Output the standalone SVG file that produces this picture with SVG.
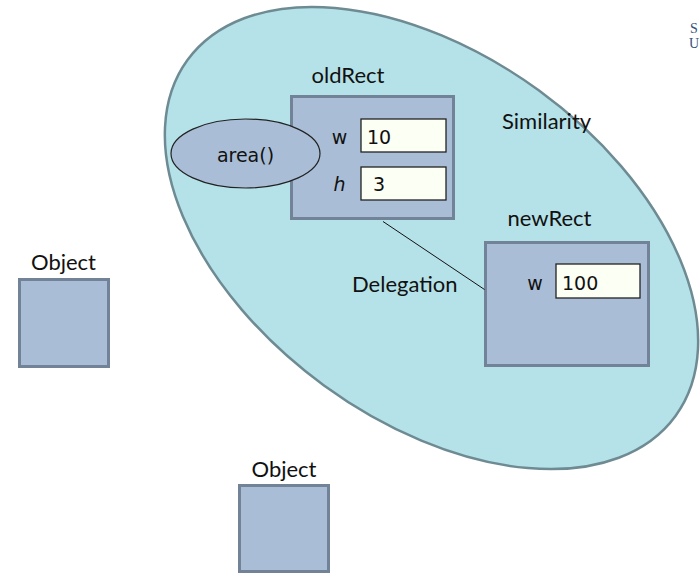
<svg xmlns="http://www.w3.org/2000/svg" width="700" height="574" viewBox="0 0 700 574">
<style>
.obj{fill:#a9bed6;stroke:#738397;stroke-width:3}
.fld{fill:#fcfff4;stroke:#222;stroke-width:1.3}
.lbl{font-family:Lato,"Open Sans",sans-serif;font-size:22px;fill:#111}
.val{font-family:"DejaVu Sans",Verdana,sans-serif;font-size:19px;fill:#111}
.logo{font-family:"Liberation Serif",serif;font-size:14px;fill:#34507a}
.conn{stroke:#111;stroke-width:1;fill:none}
</style>
<rect width="700" height="574" fill="#fff"/>
<g id="similarity">
<ellipse cx="431.5" cy="238" rx="302" ry="182.5" transform="rotate(36.1 431.5 238)" fill="#b5e2e8" stroke="#6e8b93" stroke-width="2.5"/>
<text class="lbl" x="502" y="129">Similarity</text>
</g>
<g id="logo">
<text class="logo" x="690" y="33">S</text>
<text class="logo" x="689" y="48">U</text>
</g>
<g id="oldRect">
<text class="lbl" x="348" y="83" text-anchor="middle">oldRect</text>
<rect class="obj" x="291.5" y="96.5" width="162" height="122"/>
<text class="val" x="339.5" y="144" text-anchor="middle">w</text>
<rect class="fld" x="361" y="119" width="85" height="33"/>
<text class="val" x="367" y="144">10</text>
<text class="val" x="339.5" y="191" text-anchor="middle" font-style="italic">h</text>
<rect class="fld" x="361" y="167" width="85" height="33"/>
<text class="val" x="373" y="191">3</text>
</g>
<g id="area">
<ellipse cx="245.5" cy="153.5" rx="74.5" ry="34.5" fill="#a9bed6" stroke="#222" stroke-width="1.2"/>
<text class="val" x="245.5" y="162" text-anchor="middle">area()</text>
</g>
<g id="newRect">
<text class="lbl" x="549.5" y="226" text-anchor="middle">newRect</text>
<rect class="obj" x="485.5" y="242.5" width="163" height="123"/>
<text class="val" x="535" y="290" text-anchor="middle">w</text>
<rect class="fld" x="556" y="264" width="84" height="34"/>
<text class="val" x="562" y="290">100</text>
</g>
<g id="connectors">
<line class="conn" x1="383" y1="221.5" x2="484.5" y2="289.5"/>
<text class="lbl" x="352" y="292">Delegation</text>
</g>
<g id="object1">
<text class="lbl" x="63.5" y="270" text-anchor="middle">Object</text>
<rect class="obj" x="19.5" y="279.5" width="89" height="87"/>
</g>
<g id="object2">
<text class="lbl" x="284" y="477" text-anchor="middle">Object</text>
<rect class="obj" x="239.5" y="485.5" width="89" height="86"/>
</g>
</svg>
